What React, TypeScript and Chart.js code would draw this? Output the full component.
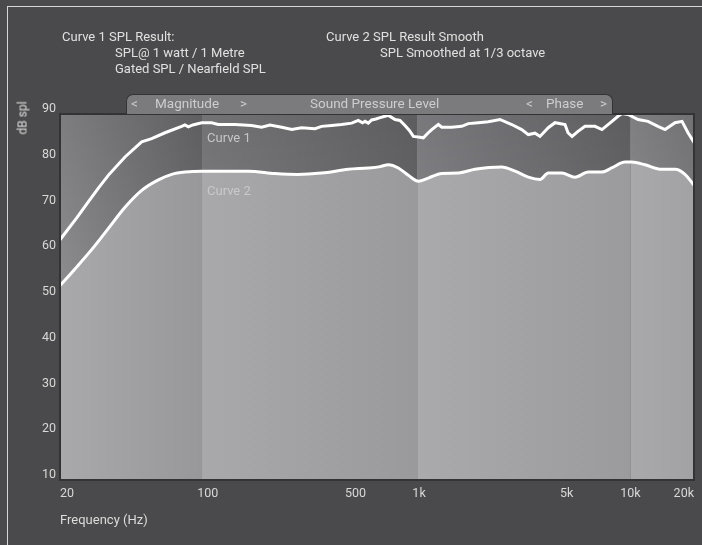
import React, { useEffect, useRef } from "react";
import { Chart, registerables } from "chart.js";

Chart.register(...registerables);

// ---- data ----
const tickHz = [20, 100, 500, 1000, 5000, 10000, 20000];
const tickLabels = ["20", "100", "500", "1k", "5k", "10k", "20k"];
const bandEdgesHz = [20, 94, 980, 10000, 20000];

const curve1Hz = [20, 24, 27, 30.5, 34, 40.6, 48.7, 54.3, 62.8, 75.3, 78, 81, 85, 93.7, 104.5, 112, 135, 161, 180, 197, 224, 250, 278, 322, 346, 386, 430, 480, 516, 540, 555, 575, 597, 625, 654, 690, 716, 770, 812, 858, 900, 940, 1010, 1048, 1100, 1148, 1234, 1281, 1428, 1592, 1711, 1907, 2126, 2416, 2745, 3060, 3288, 3538, 3735, 4088, 4398, 4905, 5068, 5294, 5651, 6099, 6801, 7338, 8183, 8738, 9126, 9743, 10870, 12120, 13510, 14590, 16270, 17550, 18730, 20000];
const curve1Db = [62.5, 67.3, 70.6, 73.9, 76.7, 80.6, 83.9, 84.6, 85.9, 87.3, 87.6, 87.2, 87.6, 88.1, 88.1, 87.7, 87.7, 87.5, 87.1, 87.6, 87.1, 86.6, 87.0, 86.8, 87.3, 87.5, 87.7, 88.0, 88.6, 88.1, 88.4, 88.0, 88.7, 88.9, 89.2, 89.5, 89.7, 88.8, 88.6, 87.5, 86.4, 85.1, 84.9, 84.8, 85.8, 86.6, 87.7, 87.1, 87.1, 87.3, 87.9, 88.1, 88.3, 88.8, 87.7, 86.6, 85.5, 85.8, 85.1, 87.0, 88.1, 87.7, 85.9, 85.1, 86.2, 87.3, 87.3, 86.6, 88.4, 89.5, 90.1, 89.9, 88.8, 88.4, 87.3, 86.6, 88.1, 88.4, 85.9, 83.8];

const curve2Hz = [20, 23.6, 28.3, 33.9, 40.6, 48.7, 58.4, 67.6, 78, 94, 112, 156, 208, 268, 346, 463, 575, 654, 716, 798, 890, 992, 1106, 1281, 1534, 1840, 2461, 2846, 3288, 3735, 4088, 4732, 5469, 6322, 7314, 8157, 9430, 10145, 11730, 14070, 16270, 18130, 20000];
const curve2Db = [52.5, 56.2, 60.4, 65.0, 69.6, 73.3, 75.6, 76.8, 77.3, 77.5, 77.5, 77.5, 77.0, 76.8, 77.1, 77.9, 78.2, 78.5, 78.9, 78.2, 76.6, 75.3, 76.0, 77.0, 77.1, 77.9, 78.4, 77.5, 76.2, 75.7, 77.1, 77.1, 76.2, 77.3, 77.3, 78.2, 79.5, 79.5, 78.9, 77.9, 77.9, 76.8, 74.4];

// ---- styles ----
const FONT = "Roboto, 'Liberation Sans', Arial, sans-serif";
const lightBand = [
  ["#a9a9ac", "#98989b"],
  ["#a9a9ac", "#9a9a9d"],
  ["#aaaaad", "#9b9b9e"],
  ["#a9a9ac", "#a2a2a5"],
];
const darkBand = [
  ["#8b8b8e", "#69696c"],
  ["#7f7f82", "#67676a"],
  ["#86868a", "#67676a"],
  ["#8d8d90", "#7e7e81"],
];

export default function App() {
  const ref = useRef<HTMLCanvasElement>(null);

  useEffect(() => {
    const canvas = ref.current;
    if (!canvas) return;
    let cache: { key: string; pattern: CanvasPattern } | null = null;

    const darkFill = (chart: any) => {
      const area = chart.chartArea;
      const xs = chart.scales && chart.scales.x;
      if (!area || !xs) return "rgba(40,40,44,0.35)";
      const key = `${area.left},${area.top},${area.right},${area.bottom}`;
      if (cache && cache.key === key) return cache.pattern;
      const off = document.createElement("canvas");
      off.width = chart.width;
      off.height = chart.height;
      const c = off.getContext("2d")!;
      for (let i = 0; i < bandEdgesHz.length - 1; i++) {
        const x0 = Math.max(area.left, xs.getPixelForValue(bandEdgesHz[i]));
        const x1 = Math.min(area.right, xs.getPixelForValue(bandEdgesHz[i + 1]));
        const g = c.createLinearGradient(x0, 0, x1, 0);
        g.addColorStop(0, darkBand[i][0]);
        g.addColorStop(1, darkBand[i][1]);
        c.fillStyle = g;
        c.fillRect(x0, area.top, x1 - x0, area.bottom - area.top);
      }
      const v = c.createLinearGradient(0, area.top, 0, area.top + 160);
      v.addColorStop(0, "rgba(0,0,0,0.10)");
      v.addColorStop(1, "rgba(0,0,0,0)");
      c.fillStyle = v;
      c.fillRect(area.left, area.top, area.right - area.left, 160);
      const pattern = chart.ctx.createPattern(off, "no-repeat");
      cache = { key, pattern };
      return pattern;
    };

    const bandsPlugin = {
      id: "bands",
      beforeDraw(chart: any) {
        const { ctx, chartArea: a, scales } = chart;
        const xs = scales.x;
        ctx.save();
        for (let i = 0; i < bandEdgesHz.length - 1; i++) {
          const x0 = Math.max(a.left, xs.getPixelForValue(bandEdgesHz[i]));
          const x1 = Math.min(a.right, xs.getPixelForValue(bandEdgesHz[i + 1]));
          const g = ctx.createLinearGradient(x0, 0, x1, 0);
          g.addColorStop(0, lightBand[i][0]);
          g.addColorStop(1, lightBand[i][1]);
          ctx.fillStyle = g;
          ctx.fillRect(x0, a.top, x1 - x0, a.bottom - a.top);
        }
        ctx.restore();
      },
      afterDatasetsDraw(chart: any) {
        const { ctx, chartArea: a } = chart;
        ctx.save();
        ctx.strokeStyle = "#333336";
        ctx.lineWidth = 2;
        ctx.strokeRect(a.left, a.top, a.right - a.left, a.bottom - a.top);
        ctx.restore();
      },
    };

    const chart = new Chart(canvas, {
      type: "line",
      data: {
        datasets: [
          {
            label: "Curve 1",
            data: curve1Hz.map((x, i) => ({ x, y: curve1Db[i] })),
            borderColor: "#ffffff",
            borderWidth: 3,
            tension: 0,
            fill: false,
            pointRadius: 0,
          },
          {
            label: "Curve 2",
            data: curve2Hz.map((x, i) => ({ x, y: curve2Db[i] })),
            borderColor: "#ffffff",
            borderWidth: 3,
            cubicInterpolationMode: "monotone",
            fill: "end",
            backgroundColor: (ctx: any) => darkFill(ctx.chart),
            pointRadius: 0,
          },
        ],
      },
      options: {
        responsive: false,
        animation: false,
        events: [],
        layout: { padding: { top: 114, right: 8, left: 0, bottom: 0 } },
        plugins: {
          legend: { display: false },
          tooltip: { enabled: false },
          title: { display: false },
        },
        scales: {
          x: {
            type: "logarithmic",
            min: 20,
            max: 20000,
            grid: { display: false, drawTicks: false },
            border: { display: false },
            afterBuildTicks: (s: any) => {
              s.ticks = tickHz.map((v) => ({ value: v }));
            },
            afterFit: (s: any) => {
              s.height = 65;
            },
            ticks: {
              autoSkip: false,
              maxRotation: 0,
              minRotation: 0,
              align: "inner",
              padding: 6,
              color: "#d8d8d8",
              font: { family: FONT, size: 12.5 },
              callback: (_v: any, i: number) => tickLabels[i] ?? "",
            },
            title: {
              display: true,
              text: "Frequency (Hz)",
              align: "start",
              color: "#dcdcdc",
              font: { family: FONT, size: 13 },
              padding: { top: 0, bottom: 16 },
            },
          },
          y: {
            type: "linear",
            min: 10,
            max: 90,
            grid: { display: false, drawTicks: false },
            border: { display: false },
            afterFit: (s: any) => {
              s.width = 60;
            },
            ticks: {
              stepSize: 10,
              padding: 4,
              labelOffset: -5,
              color: "#d8d8d8",
              font: { family: FONT, size: 12.5 },
            },
          },
        },
      } as any,
      plugins: [bandsPlugin],
    });

    return () => chart.destroy();
  }, []);

  const hdr: React.CSSProperties = {
    position: "absolute",
    color: "#e0e0e0",
    fontSize: 13,
    lineHeight: "16px",
    whiteSpace: "nowrap",
  };
  const tabTxt: React.CSSProperties = {
    position: "absolute",
    top: 0,
    color: "#cdcdcf",
    fontSize: 13.5,
    lineHeight: "16px",
    whiteSpace: "nowrap",
  };

  return (
    <div
      style={{
        position: "fixed",
        left: 0,
        top: 0,
        width: 702,
        height: 545,
        background: "#4a4a4c",
        overflow: "hidden",
        fontFamily: FONT,
      }}
    >
      <div
        style={{
          position: "absolute",
          left: 7,
          top: 6,
          right: -2,
          bottom: -2,
          borderTop: "1px solid #d6d6d6",
          borderLeft: "1px solid #d6d6d6",
        }}
      />
      <canvas
        ref={ref}
        width={702}
        height={545}
        style={{ position: "absolute", left: 0, top: 0, width: 702, height: 545 }}
      />

      <div style={{ ...hdr, left: 62, top: 28.5 }}>Curve 1 SPL Result:</div>
      <div style={{ ...hdr, left: 115, top: 45 }}>SPL@ 1 watt / 1 Metre</div>
      <div style={{ ...hdr, left: 115, top: 60.5 }}>Gated SPL / Nearfield SPL</div>
      <div style={{ ...hdr, left: 326, top: 28.5 }}>Curve 2 SPL Result Smooth</div>
      <div style={{ ...hdr, left: 380, top: 45 }}>SPL Smoothed at 1/3 octave</div>

      <div
        style={{
          position: "absolute",
          left: 126,
          top: 94,
          width: 487,
          height: 20,
          boxSizing: "border-box",
          background: "#7b7b7e",
          border: "1.5px solid #333336",
          borderBottom: "none",
          borderRadius: "7px 7px 0 0",
        }}
      >
        <span style={{ ...tabTxt, left: 4 }}>&lt;</span>
        <span style={{ ...tabTxt, left: 28 }}>Magnitude</span>
        <span style={{ ...tabTxt, left: 113 }}>&gt;</span>
        <span style={{ ...tabTxt, left: 183 }}>Sound Pressure Level</span>
        <span style={{ ...tabTxt, left: 399 }}>&lt;</span>
        <span style={{ ...tabTxt, left: 419 }}>Phase</span>
        <span style={{ ...tabTxt, left: 473 }}>&gt;</span>
      </div>

      <div style={{ ...hdr, left: 207, top: 130, color: "#c6c6c9" }}>Curve 1</div>
      <div style={{ ...hdr, left: 207, top: 182.5, color: "#c9c9cc" }}>Curve 2</div>

      <div
        style={{
          position: "absolute",
          left: 23,
          top: 118,
          transform: "translate(-50%, -50%) rotate(-90deg)",
          color: "#dcdcdc",
          fontSize: 12,
          lineHeight: "13px",
          whiteSpace: "nowrap",
        }}
      >
        dB spl
      </div>
    </div>
  );
}
